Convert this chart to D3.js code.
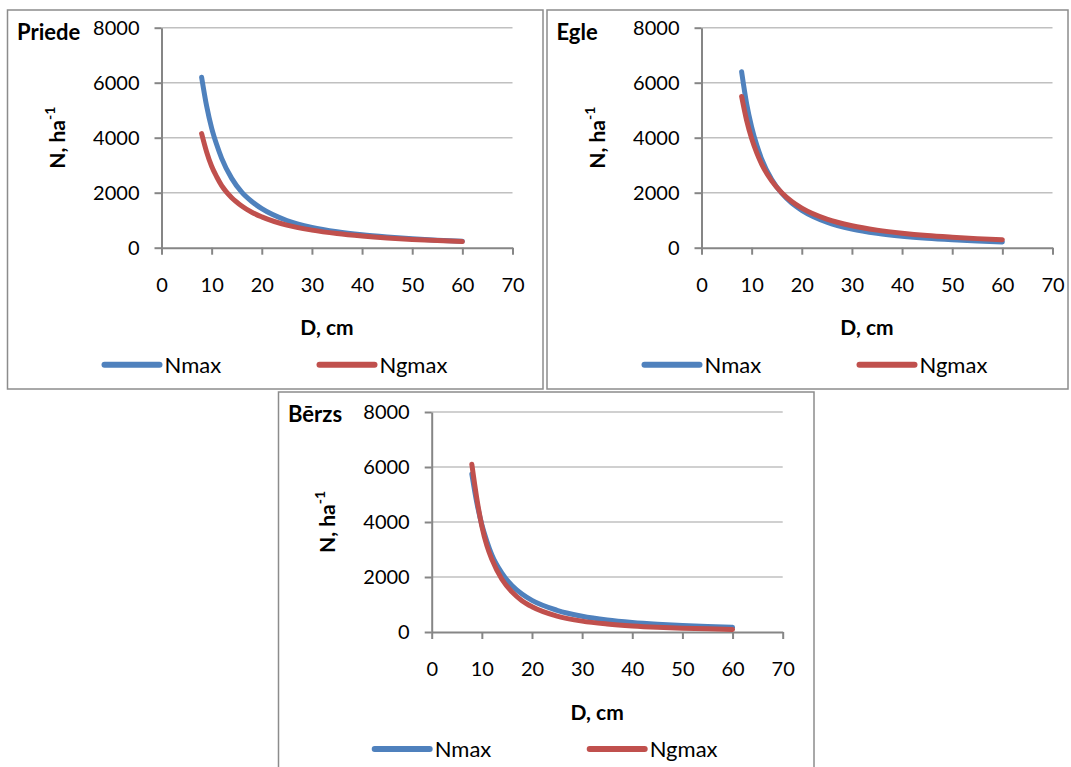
<!DOCTYPE html>
<html>
<head>
<meta charset="utf-8">
<script src="https://cdn.jsdelivr.net/npm/d3@7/dist/d3.min.js"></script>
<style>
  html, body { margin: 0; padding: 0; background: #ffffff; }
  svg { display: block; }
  text { font-family: Lato, "Open Sans", sans-serif; fill: #000; }
</style>
</head>
<body>
<svg id="chart" width="1071" height="767"></svg>
<script>
// ---- data ----
const diameters = [8, 9, 10, 11, 12, 14, 16, 18, 20, 25, 30, 35, 40, 45, 50, 55, 60];
const priedeNmax  = [6200, 5150, 4350, 3750, 3250, 2520, 2020, 1680, 1420, 990, 740, 580, 470, 390, 325, 275, 235];
const priedeNgmax = [4150, 3480, 2960, 2580, 2260, 1820, 1520, 1290, 1120, 820, 640, 515, 425, 355, 300, 258, 222];
const egleNmax    = [6400, 5240, 4390, 3740, 3220, 2480, 1980, 1620, 1360, 930, 680, 525, 420, 345, 290, 245, 210];
const egleNgmax   = [5500, 4630, 3970, 3460, 3040, 2430, 2000, 1680, 1440, 1040, 800, 640, 525, 440, 380, 330, 290];
const berzsNmax   = [5750, 4700, 3900, 3300, 2800, 2140, 1690, 1380, 1150, 790, 575, 440, 350, 285, 235, 200, 170];
const berzsNgmax  = [6100, 4850, 3850, 3140, 2640, 1920, 1460, 1140, 920, 580, 395, 290, 220, 172, 139, 114, 95];
const xTicks = [0, 10, 20, 30, 40, 50, 60, 70];
const yTicks = [0, 2000, 4000, 6000, 8000];
const seriesNames = ["Nmax", "Ngmax"];
const panelTitles = ["Priede", "Egle", "Bērzs"];
const xTitle = "D, cm";

// ---- layout ----
const colors = ["#4F81BD", "#C0504D"];
const panels = [
  { title: panelTitles[0], nmax: priedeNmax, ngmax: priedeNgmax,
    box: [7.5, 10, 535.5, 379], px: [161.5, 512.5], py: [247.7, 27.7] },
  { title: panelTitles[1], nmax: egleNmax, ngmax: egleNgmax,
    box: [547, 10, 521, 379], px: [701.5, 1052.5], py: [247.7, 27.7] },
  { title: panelTitles[2], nmax: berzsNmax, ngmax: berzsNgmax,
    box: [278.5, 392, 535.5, 420], px: [431.7, 782.7], py: [632, 412] }
];

const svg = d3.select("#chart");
svg.append("rect").attr("width", 1071).attr("height", 767).attr("fill", "#fff");

panels.forEach(p => {
  const g = svg.append("g");
  // border
  g.append("rect")
    .attr("x", p.box[0]).attr("y", p.box[1])
    .attr("width", p.box[2]).attr("height", p.box[3])
    .attr("fill", "#fff").attr("stroke", "#8c8c8c").attr("stroke-width", 1.5);

  const x = d3.scaleLinear().domain([0, 70]).range(p.px);
  const y = d3.scaleLinear().domain([0, 8000]).range(p.py);

  // gridlines
  g.selectAll(".grid").data(yTicks.filter(t => t > 0)).enter().append("line")
    .attr("x1", x(0)).attr("x2", x(70))
    .attr("y1", d => y(d)).attr("y2", d => y(d))
    .attr("stroke", "#c0c0c0").attr("stroke-width", 1.5);

  // axes
  const xAxis = d3.axisBottom(x).tickValues(xTicks).tickFormat(d3.format("d"))
    .tickSize(7).tickSizeOuter(0).tickPadding(23);
  const yAxis = d3.axisLeft(y).tickValues(yTicks).tickFormat(d3.format("d"))
    .tickSize(7).tickSizeOuter(0).tickPadding(15);
  const gx = g.append("g").attr("transform", `translate(0,${y(0)})`).call(xAxis);
  const gy = g.append("g").attr("transform", `translate(${x(0)},0)`).call(yAxis);
  [gx, gy].forEach(a => {
    a.select(".domain").attr("stroke", "#868686").attr("stroke-width", 2);
    a.selectAll(".tick line").attr("stroke", "#868686").attr("stroke-width", 2);
    a.selectAll(".tick text").attr("font-size", 20).attr("font-family", "Lato, sans-serif").attr("fill", "#000");
  });

  // series
  const line = d3.line().x((d, i) => x(diameters[i])).y(d => y(d)).curve(d3.curveMonotoneX);
  [p.nmax, p.ngmax].forEach((vals, k) => {
    g.append("path").attr("d", line(vals))
      .attr("fill", "none").attr("stroke", colors[k])
      .attr("stroke-width", 5).attr("stroke-linecap", "round").attr("stroke-linejoin", "round");
  });

  // panel title
  g.append("text").attr("x", p.box[0] + 9.5).attr("y", p.box[1] + 30)
    .attr("font-size", 22).attr("font-weight", "bold").text(p.title);

  // x title
  g.append("text").attr("x", (p.px[0] + p.px[1]) / 2 - 10).attr("y", y(0) + 80)
    .attr("dy", "0.36em").attr("text-anchor", "middle")
    .attr("font-size", 21).attr("font-weight", "bold").text(xTitle);

  // y title
  const yt = g.append("text")
    .attr("transform", `translate(${x(0) - 104},${(p.py[0] + p.py[1]) / 2}) rotate(-90)`)
    .attr("text-anchor", "middle").attr("dy", "0.36em")
    .attr("font-size", 21).attr("font-weight", "bold");
  yt.append("tspan").text("N, ha");
  yt.append("tspan").attr("font-size", 14).attr("dy", "-0.75em").text("-1");

  // legend
  const ly = y(0) + 117;
  const lx = [x(0) - 57, x(0) + 158];
  seriesNames.forEach((name, k) => {
    g.append("line").attr("x1", lx[k]).attr("x2", lx[k] + 55)
      .attr("y1", ly).attr("y2", ly)
      .attr("stroke", colors[k]).attr("stroke-width", 6).attr("stroke-linecap", "round");
    g.append("text").attr("x", lx[k] + 60).attr("y", ly).attr("dy", "0.36em")
      .attr("font-size", 22).text(name);
  });
});
</script>
</body>
</html>
